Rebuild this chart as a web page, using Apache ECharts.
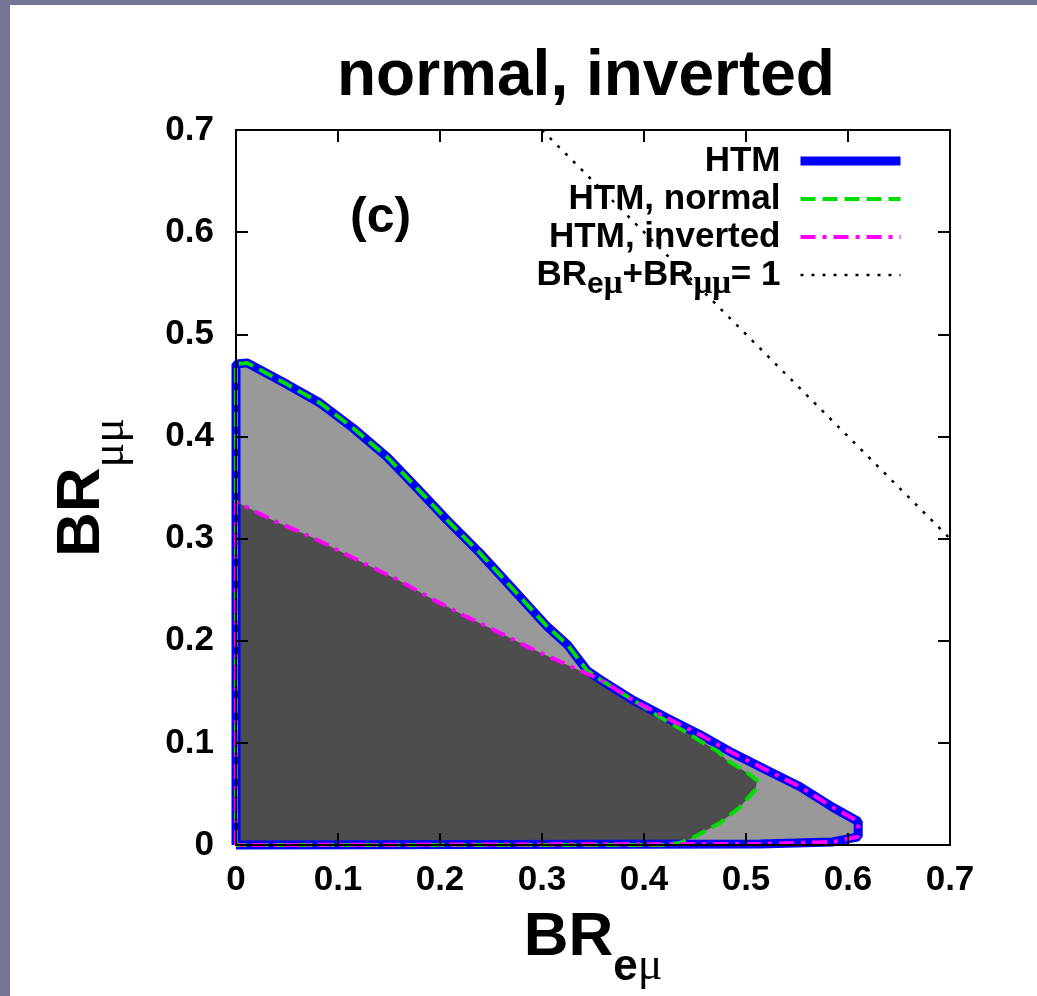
<!DOCTYPE html>
<html>
<head>
<meta charset="utf-8">
<title>normal, inverted</title>
<style>
  html, body { margin: 0; padding: 0; overflow: hidden; background: #747499; }
  #chart { position: absolute; left: 10px; top: 5px; width: 1027px; height: 991px; background: #fff; }
</style>
</head>
<body>
<div id="chart"></div>
<script src="https://cdn.jsdelivr.net/npm/echarts@6/dist/echarts.min.js"></script>
<script>
// region boundaries, [BR_emu, BR_mumu]
var origin = [0, 0];
var normalTop = [[0, 0.471], [0.011, 0.472], [0.050, 0.451], [0.082, 0.433], [0.115, 0.408], [0.148, 0.380],
  [0.174, 0.353], [0.207, 0.318], [0.239, 0.286], [0.272, 0.250], [0.305, 0.214], [0.325, 0.196], [0.344, 0.171]];
var invertedTop = [[0, 0.335], [0.006, 0.333], [0.036, 0.318], [0.075, 0.301], [0.125, 0.276], [0.158, 0.260],
  [0.190, 0.242], [0.223, 0.225], [0.256, 0.209], [0.288, 0.193], [0.321, 0.178]];
var sharedEdge = [[0.357, 0.162], [0.389, 0.142]];
var outerTail = [[0.423, 0.124], [0.455, 0.108], [0.487, 0.090], [0.521, 0.073], [0.553, 0.057], [0.585, 0.037],
  [0.610, 0.023], [0.610, 0.008], [0.585, 0.003], [0.514, 0.001]];
var normalTail = [[0.416, 0.125], [0.442, 0.110], [0.458, 0.100], [0.472, 0.092], [0.481, 0.083], [0.501, 0.071],
  [0.511, 0.063], [0.509, 0.054], [0.494, 0.037], [0.475, 0.022], [0.448, 0.007], [0.435, 0.002], [0.420, 0]];
var unitLine = [[0.3, 0.7], [0.7, 0.3]];

var xTickLabels = ['0', '0.1', '0.2', '0.3', '0.4', '0.5', '0.6', '0.7'];
var yTickLabels = ['0', '0.1', '0.2', '0.3', '0.4', '0.5', '0.6', '0.7'];
var seriesNames = ['HTM', 'HTM, normal', 'HTM, inverted', 'BR+BR=1'];

// closed outlines
var htmShape = [origin].concat(normalTop, sharedEdge, outerTail, [origin]);
var normalShape = [origin].concat(normalTop, sharedEdge, normalTail, [origin]);
var invertedShape = [origin].concat(invertedTop, sharedEdge, outerTail, [origin]);
var overlapShape = [origin].concat(invertedTop, sharedEdge, normalTail, [origin]);

var FONT = 'Liberation Sans';

function polygonSeries(points, color) {
  return {
    type: 'custom',
    data: [[0, 0]],
    silent: true,
    renderItem: function (params, api) {
      return {
        type: 'polygon',
        shape: { points: points.map(function (p) { return api.coord(p); }) },
        style: { fill: color }
      };
    }
  };
}

function frameAxis(pos, isX, showLabel) {
  var ax = {
    type: 'value',
    position: pos,
    min: 0,
    max: 0.7,
    interval: 0.1,
    z: 10,
    axisLine: { onZero: false, lineStyle: { color: '#000', width: 2 } },
    axisTick: { inside: true, length: 12, lineStyle: { color: '#000', width: 2 } },
    splitLine: { show: false },
    axisLabel: {
      show: showLabel,
      color: '#000',
      fontSize: 35,
      fontWeight: 'bold',
      fontFamily: FONT,
      margin: isX ? 18 : 22,
      formatter: function (v) {
        return (isX ? xTickLabels : yTickLabels)[Math.round(v / 0.1)];
      }
    }
  };
  return ax;
}

var xMain = frameAxis('bottom', true, true);
xMain.name = '{b|BR}{s|e}{m|μ}';
xMain.nameLocation = 'middle';
xMain.nameGap = 62;
xMain.nameTextStyle = {
  rich: {
    b: { fontSize: 62, fontWeight: 'bold', fontFamily: FONT, color: '#000', lineHeight: 62 },
    s: { fontSize: 44, fontWeight: 'bold', fontFamily: FONT, color: '#000', lineHeight: 10, verticalAlign: 'top', padding: [39, 0, 0, 0] },
    m: { fontSize: 46, fontFamily: 'Liberation Serif', color: '#000', lineHeight: 10, verticalAlign: 'top', padding: [37, 0, 0, 0] }
  }
};

var yMain = frameAxis('left', false, true);
yMain.name = '{b|BR}{m|μμ}';
yMain.nameLocation = 'middle';
yMain.nameGap = 123;
yMain.nameTextStyle = {
  rich: {
    b: { fontSize: 62, fontWeight: 'bold', fontFamily: FONT, color: '#000', lineHeight: 62 },
    m: { fontSize: 46, fontFamily: 'Liberation Serif', color: '#000', lineHeight: 10, verticalAlign: 'top', padding: [37, 0, 0, 0] }
  }
};

var chart = echarts.init(document.getElementById('chart'));

var option = {
  animation: false,
  title: {
    text: 'normal, inverted',
    left: 322,
    top: 35,
    textStyle: { fontSize: 64, fontWeight: 'bold', fontFamily: FONT, color: '#000' }
  },
  grid: { left: 226, top: 125, right: 87, bottom: 151 },
  xAxis: [xMain, frameAxis('top', true, false)],
  yAxis: [yMain, frameAxis('right', false, false)],
  legend: {
    data: seriesNames,
    orient: 'vertical',
    align: 'right',
    right: 132,
    top: 137,
    padding: 0,
    itemGap: 0,
    itemWidth: 100,
    itemHeight: 10,
    selectedMode: false,
    itemStyle: { opacity: 0 },
    lineStyle: { width: 'inherit' },
    formatter: function (name) {
      if (name === seriesNames[3]) {
        return '{b|BR}{s|e}{m|μ}{b|+BR}{m|μμ}{b|= 1}';
      }
      return name;
    },
    textStyle: {
      fontSize: 35,
      fontWeight: 'bold',
      fontFamily: FONT,
      color: '#000',
      lineHeight: 38,
      padding: [0, 15, 0, 0],
      rich: {
        b: { fontSize: 35, fontWeight: 'bold', fontFamily: FONT, color: '#000', lineHeight: 38 },
        s: { fontSize: 30, fontWeight: 'bold', fontFamily: FONT, color: '#000', lineHeight: 10, verticalAlign: 'top', padding: [14, 0, 0, 0] },
        m: { fontSize: 33, fontFamily: 'Liberation Serif', color: '#000', lineHeight: 10, verticalAlign: 'top', padding: [12, 0, 0, 0] }
      }
    }
  },
  graphic: [{
    type: 'text',
    left: 340,
    top: 188,
    style: { text: '(c)', fontSize: 50, fontWeight: 'bold', fontFamily: FONT, fill: '#000' }
  }],
  series: [
    polygonSeries(htmShape, '#999999'),
    polygonSeries(overlapShape, '#4d4d4d'),
    {
      name: seriesNames[0], type: 'line', data: htmShape, symbol: 'none', clip: false,
      lineStyle: { color: '#0000ff', width: 9 }, color: '#0000ff'
    },
    {
      name: seriesNames[1], type: 'line', data: normalShape, symbol: 'none', clip: false,
      lineStyle: { color: '#00dd00', width: 4, type: [15, 7] }, color: '#00dd00'
    },
    {
      name: seriesNames[2], type: 'line', data: invertedShape, symbol: 'none', clip: false,
      lineStyle: { color: '#ff00ff', width: 4, type: [15, 7, 4, 7] }, color: '#ff00ff'
    },
    {
      name: seriesNames[3], type: 'line', data: unitLine, symbol: 'none',
      lineStyle: { color: '#000', width: 2.5, type: [3, 8] }, color: '#000'
    }
  ]
};

chart.setOption(option);
</script>
</body>
</html>
